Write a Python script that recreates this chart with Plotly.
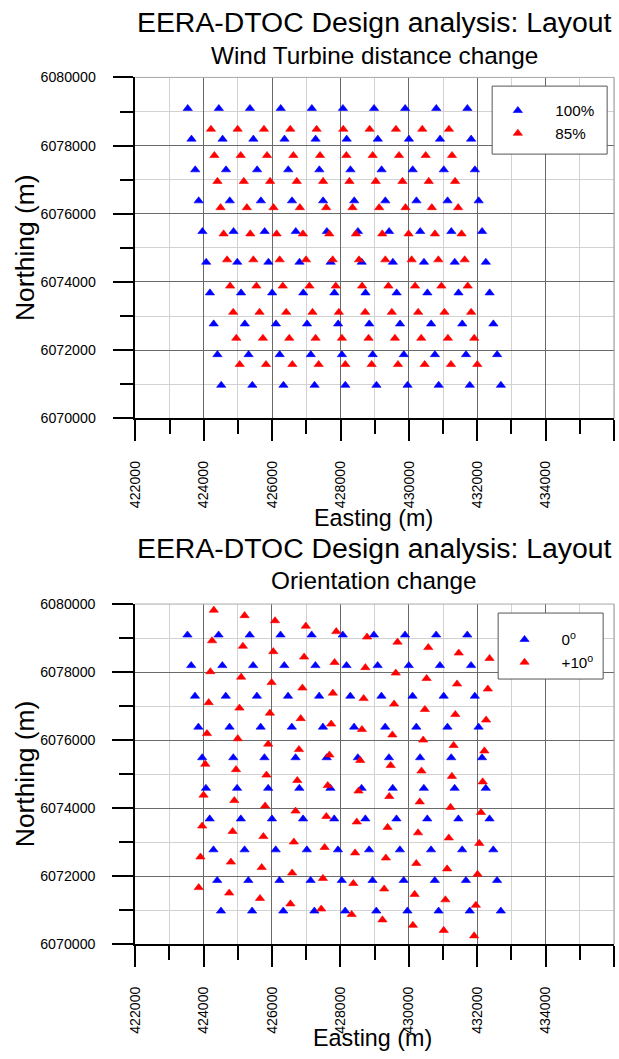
import plotly.graph_objects as go

W, H = 619, 1059
FONT = "Liberation Sans, Arial, sans-serif"

# Positions below are given in page pixels; the page keeps the browser's
# default 8 px body margin and is shown fitted to the window, so page
# pixels are converted to figure pixels with these factors.
BODY = 8
FIT_X, FIT_Y = 0.987, 0.985
FIT = 0.986
RIGHT_EDGE = 614  # figure px of the plot areas' right side

# ---- Base layout: 100 % spacing, 0° orientation (northing per row, eastings per row)
base_northing = [6079090, 6078190, 6077290, 6076380, 6075480,
                 6074580, 6073680, 6072770, 6071870, 6070970]
base_easting = [
    [423530, 424440, 425350, 426250, 427160, 428070, 428980, 429890, 430800, 431710],
    [423640, 424550, 425450, 426360, 427270, 428180, 429090, 430000, 430910, 431820],
    [423750, 424650, 425560, 426470, 427380, 428290, 429200, 430110, 431020, 431930],
    [423850, 424760, 425670, 426580, 427490, 428400, 429310, 430220, 431130, 432040],
    [423960, 424870, 425780, 426690, 427600, 428510, 429420, 430330, 431240, 432140],
    [424070, 424980, 425890, 426800, 427710, 428620, 429530, 430440, 431340, 432250],
    [424180, 425090, 426000, 426910, 427820, 428730, 429640, 430540, 431450, 432360],
    [424290, 425200, 426110, 427020, 427930, 428840, 429740, 430650, 431560, 432470],
    [424400, 425310, 426220, 427130, 428040, 428940, 429850, 430760, 431670, 432580],
    [424510, 425420, 426330, 427240, 428140, 429050, 429960, 430870, 431780, 432690],
]

# ---- 85 % turbine spacing
dist85_northing = [6078480, 6077710, 6076950, 6076180, 6075410,
                   6074650, 6073880, 6073110, 6072350, 6071580]
dist85_easting = [
    [424210, 424990, 425760, 426530, 427300, 428080, 428850, 429620, 430390, 431170],
    [424310, 425080, 425850, 426620, 427400, 428170, 428940, 429710, 430490, 431260],
    [424400, 425170, 425940, 426720, 427490, 428260, 429030, 429810, 430580, 431350],
    [424490, 425260, 426040, 426810, 427580, 428350, 429130, 429900, 430670, 431440],
    [424580, 425360, 426130, 426900, 427670, 428450, 429220, 429990, 430760, 431540],
    [424680, 425450, 426220, 426990, 427770, 428540, 429310, 430080, 430860, 431630],
    [424770, 425540, 426310, 427090, 427860, 428630, 429400, 430180, 430950, 431720],
    [424860, 425630, 426410, 427180, 427950, 428720, 429500, 430270, 431040, 431820],
    [424950, 425730, 426500, 427270, 428040, 428820, 429590, 430360, 431140, 431910],
    [425050, 425820, 426590, 427360, 428140, 428910, 429680, 430460, 431230, 432000],
]

# ---- +10° orientation (each turbine has its own easting / northing)
rot10_easting = [
    [424300, 425200, 426090, 426990, 427880, 428780, 429670, 430570, 431460, 432360],
    [424250, 425150, 426040, 426940, 427830, 428730, 429620, 430520, 431410, 432310],
    [424200, 425100, 425990, 426890, 427780, 428680, 429570, 430470, 431360, 432260],
    [424150, 425050, 425940, 426840, 427730, 428630, 429520, 430420, 431310, 432210],
    [424100, 425000, 425890, 426790, 427680, 428580, 429470, 430370, 431260, 432160],
    [424050, 424950, 425840, 426740, 427630, 428530, 429430, 430320, 431220, 432110],
    [424000, 424900, 425800, 426690, 427590, 428480, 429380, 430270, 431170, 432060],
    [423960, 424850, 425750, 426640, 427540, 428430, 429330, 430220, 431120, 432010],
    [423910, 424800, 425700, 426590, 427490, 428380, 429280, 430170, 431070, 431960],
    [423860, 424750, 425650, 426540, 427440, 428330, 429230, 430120, 431020, 431910],
]
rot10_northing = [
    [6079820, 6079660, 6079510, 6079350, 6079190, 6079030, 6078880, 6078720, 6078560, 6078400],
    [6078920, 6078760, 6078600, 6078440, 6078280, 6078130, 6077970, 6077810, 6077650, 6077500],
    [6078010, 6077850, 6077690, 6077530, 6077380, 6077220, 6077060, 6076900, 6076750, 6076590],
    [6077100, 6076940, 6076790, 6076630, 6076470, 6076310, 6076150, 6076000, 6075840, 6075680],
    [6076190, 6076040, 6075880, 6075720, 6075560, 6075400, 6075250, 6075090, 6074930, 6074770],
    [6075290, 6075130, 6074970, 6074810, 6074660, 6074500, 6074340, 6074180, 6074020, 6073870],
    [6074380, 6074220, 6074060, 6073910, 6073750, 6073590, 6073430, 6073270, 6073120, 6072960],
    [6073470, 6073310, 6073160, 6073000, 6072840, 6072680, 6072530, 6072370, 6072210, 6072050],
    [6072560, 6072410, 6072250, 6072090, 6071930, 6071780, 6071620, 6071460, 6071300, 6071140],
    [6071660, 6071500, 6071340, 6071180, 6071030, 6070870, 6070710, 6070550, 6070400, 6070240],
]

easting_range = [422000, 436000]
northing_range = [6070000, 6080000]

titles = ["EERA-DTOC Design analysis: Layout", "EERA-DTOC Design analysis: Layout"]
subtitles = ["Wind Turbine distance change", "Orientation change"]
legend_top = ["100%", "85%"]
legend_bottom = ["0<sup>o</sup>", "+10<sup>o</sup>"]


def rows_to_points(northing, easting):
    xs, ys = [], []
    for n_row, e_row in zip(northing, easting):
        if not isinstance(n_row, list):
            n_row = [n_row] * len(e_row)
        xs.extend(e_row)
        ys.extend(n_row)
    return xs, ys


def fx(xp):
    """page x pixel -> figure x pixel"""
    return xp / FIT_X - BODY


def px(xp):
    """page x pixel -> paper fraction"""
    return min(max(fx(xp) / W, 0.0), 1.0)


def py(yp):
    """page y pixel -> paper fraction"""
    f = 1 - (yp / FIT_Y - BODY) / H
    return min(max(f, 0.0), 1.0)


def sz(v):
    """page size in px -> figure size in px"""
    return v / FIT


# plot-area page-pixel boxes: (left, right, top, bottom)
boxes = [(135.3, 611.7, 77.3, 418.3), (135.0, 609.0, 604.0, 944.0)]

BLUE, RED = "#0000ff", "#ff0000"


def marker(c):
    return dict(symbol="triangle-up", size=sz(8), color=c, line=dict(width=0.6, color=c))


fig = go.Figure()

bx, by = rows_to_points(base_northing, base_easting)
rx, ry = rows_to_points(dist85_northing, dist85_easting)
ox, oy = rows_to_points(rot10_northing, rot10_easting)

fig.add_trace(go.Scatter(x=bx, y=by, mode="markers", marker=marker(BLUE),
                         name=legend_top[0], xaxis="x", yaxis="y", legend="legend"))
fig.add_trace(go.Scatter(x=rx, y=ry, mode="markers", marker=marker(RED),
                         name=legend_top[1], xaxis="x", yaxis="y", legend="legend"))
fig.add_trace(go.Scatter(x=bx, y=by, mode="markers", marker=marker(BLUE),
                         name=legend_bottom[0], xaxis="x2", yaxis="y2", legend="legend2"))
fig.add_trace(go.Scatter(x=ox, y=oy, mode="markers", marker=marker(RED),
                         name=legend_bottom[1], xaxis="x2", yaxis="y2", legend="legend2"))


def axis_common():
    return dict(
        dtick=2000, ticks="outside", ticklen=sz(20.5), tickwidth=2, tickcolor="black",
        showline=True, linewidth=2, linecolor="black",
        showgrid=True, gridcolor="#6a6a6a", gridwidth=1,
        minor=dict(dtick=1000, ticks="outside", ticklen=sz(13.5), tickwidth=2,
                   tickcolor="black", showgrid=True, gridcolor="#d2d2d2", gridwidth=1),
        zeroline=False, tickformat="d",
        tickfont=dict(family=FONT, size=sz(14), color="black"),
        fixedrange=True,
    )


layout_axes = {}
for k, (l, r, t, b) in enumerate(boxes):
    sx = "" if k == 0 else "2"
    right = max(fx(r), RIGHT_EDGE) / W
    xa = axis_common()
    xa.update(domain=[px(l), min(right, 1.0)], range=easting_range, tick0=422000,
              anchor="y" + sx, tickangle=-90, ticklabelstandoff=14)
    ya = axis_common()
    ya.update(domain=[py(b), py(t)], range=northing_range, tick0=6070000,
              anchor="x" + sx, ticklabelstandoff=14)
    layout_axes["xaxis" + sx] = xa
    layout_axes["yaxis" + sx] = ya

annotations = []
shapes = []
title_y = [(22, 55, 518), (548, 580, 1038)]
for k, (l, r, t, b) in enumerate(boxes):
    ty, sy, ey = title_y[k]
    cx = (l + r) / 2
    annotations += [
        dict(text=titles[k], x=px(374), y=py(ty), xref="paper", yref="paper",
             showarrow=False, xanchor="center", yanchor="middle",
             font=dict(family=FONT, size=28.4, color="black")),
        dict(text=subtitles[k], x=px(374), y=py(sy), xref="paper", yref="paper",
             showarrow=False, xanchor="center", yanchor="middle",
             font=dict(family=FONT, size=sz(24), color="black")),
        dict(text="Easting (m)", x=px(cx), y=py(ey), xref="paper", yref="paper",
             showarrow=False, xanchor="center", yanchor="middle",
             font=dict(family=FONT, size=sz(23), color="black")),
        dict(text="Northing (m)", x=px(25), y=py((t + b) / 2), xref="paper", yref="paper",
             showarrow=False, xanchor="center", yanchor="middle", textangle=-90,
             font=dict(family=FONT, size=sz(26), color="black")),
    ]
    sx = "" if k == 0 else "2"
    # light frame on the top and right sides of the plot area
    shapes += [
        dict(type="line", xref="x" + sx + " domain", yref="y" + sx + " domain",
             x0=0, x1=1, y0=1, y1=1, line=dict(color="#a8a8a8", width=1)),
        dict(type="line", xref="x" + sx + " domain", yref="y" + sx + " domain",
             x0=1, x1=1, y0=0, y1=1, line=dict(color="#8a8a8a", width=1)),
    ]

# legend frames
legend_boxes = [(492, 607, 86, 154), (498, 603, 613, 679)]
for (l, r, t, b) in legend_boxes:
    shapes.append(dict(type="rect", xref="paper", yref="paper",
                       x0=px(l), x1=px(r), y0=py(b), y1=py(t),
                       fillcolor="white", layer="above",
                       line=dict(color="#555555", width=1)))

legend_style = dict(bgcolor="rgba(0,0,0,0)", borderwidth=0, xanchor="left", yanchor="top",
                    font=dict(family=FONT, size=sz(15), color="black"), tracegroupgap=0)

fig.update_layout(
    width=W, height=H,
    margin=dict(l=0, r=0, t=0, b=0),
    paper_bgcolor="white", plot_bgcolor="white",
    showlegend=True,
    legend=dict(x=px(480.2), y=py(94), itemwidth=65, **legend_style),
    legend2=dict(x=px(487.4), y=py(623), itemwidth=64, **legend_style),
    annotations=annotations,
    shapes=shapes,
    **layout_axes,
)

fig.write_html("out.html")
